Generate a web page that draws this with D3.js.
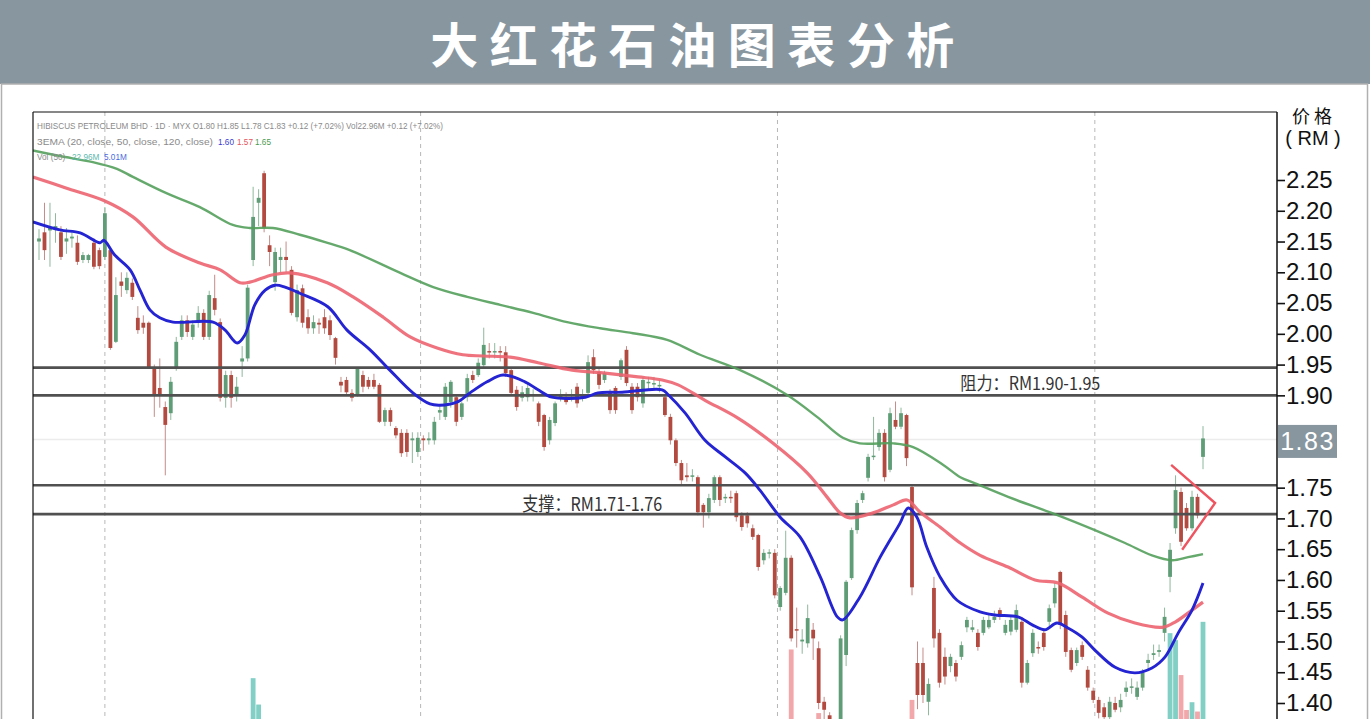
<!DOCTYPE html>
<html><head><meta charset="utf-8">
<script src="https://cdn.jsdelivr.net/npm/d3@7/dist/d3.min.js"></script>
<style>html,body{margin:0;padding:0;background:#fff;overflow:hidden}</style>
</head><body>
<svg id="c" width="1370" height="719"></svg>
<script>
const title = "大红花石油图表分析";
const openP = [2.15,2.165,2.168,2.172,2.165,2.15,2.155,2.148,2.12,2.12,
2.148,2.136,2.125,2.136,1.987,2.085,2.071,2.083,2.026,2.018,
2.018,1.945,1.912,1.881,1.871,1.946,1.995,2.022,1.995,2.018,
2.034,1.995,2.058,2.019,1.896,1.933,1.90,1.955,1.96,2.12,
2.213,2.261,2.144,2.084,2.12,2.125,2.104,2.027,2.074,2.027,
2.009,2.018,2.027,2.022,1.993,1.922,1.925,1.904,1.90,1.933,
1.925,1.925,1.917,1.857,1.876,1.847,1.839,1.839,1.827,1.808,
1.83,1.827,1.827,1.872,1.865,1.889,1.897,1.865,1.897,1.933,
1.933,1.949,1.972,1.97,1.972,1.97,1.941,1.909,1.896,1.897,
1.90,1.887,1.868,1.827,1.855,1.895,1.897,1.895,1.914,1.897,
1.904,1.962,1.938,1.925,1.904,1.912,1.93,1.974,1.914,1.914,
1.887,1.92,1.918,1.915,1.897,1.865,1.827,1.79,1.77,1.768,
1.767,1.722,1.71,1.73,1.767,1.733,1.735,1.741,1.705,1.705,
1.684,1.673,1.632,1.644,1.644,1.556,1.579,1.636,1.52,1.50,
1.497,1.519,1.489,1.402,1.38,1.35,1.34,1.478,1.603,1.681,
1.73,1.766,1.80,1.816,1.839,1.779,1.86,1.849,1.868,1.751,
1.465,1.465,1.402,1.587,1.514,1.475,1.46,1.465,1.475,1.523,
1.519,1.514,1.514,1.523,1.535,1.551,1.514,1.516,1.519,1.532,
1.433,1.481,1.491,1.514,1.532,1.562,1.613,1.543,1.486,1.465,
1.494,1.454,1.42,1.405,1.393,1.377,1.40,1.393,1.418,1.425,
1.41,1.425,1.465,1.478,1.483,1.514,1.605,1.684,1.743,1.717,
1.684,1.735,1.80];
const highP = [2.17,2.213,2.213,2.196,2.175,2.172,2.165,2.16,2.133,2.13,
2.155,2.14,2.206,2.14,2.092,2.10,2.10,2.09,2.045,2.03,
2.02,1.95,1.96,1.89,1.93,1.995,2.03,2.03,2.022,2.045,
2.04,2.07,2.096,2.025,1.94,1.94,1.93,1.98,2.08,2.239,
2.235,2.265,2.16,2.14,2.14,2.15,2.11,2.08,2.08,2.04,
2.03,2.025,2.04,2.03,1.995,1.93,1.93,1.91,1.945,1.94,
1.93,1.935,1.92,1.88,1.88,1.85,1.845,1.845,1.84,1.84,
1.835,1.84,1.865,1.885,1.92,1.925,1.90,1.89,1.935,1.94,
1.96,2.01,1.985,1.985,1.98,1.98,1.945,1.915,1.915,1.92,
1.91,1.89,1.87,1.865,1.89,1.91,1.905,1.91,1.92,1.91,
1.965,1.975,1.945,1.94,1.91,1.915,1.96,1.98,1.92,1.92,
1.93,1.93,1.93,1.925,1.90,1.87,1.83,1.795,1.79,1.78,
1.77,1.725,1.74,1.77,1.77,1.74,1.745,1.745,1.71,1.71,
1.69,1.675,1.65,1.65,1.65,1.59,1.68,1.64,1.555,1.52,
1.56,1.53,1.50,1.41,1.385,1.36,1.51,1.60,1.685,1.73,
1.745,1.805,1.865,1.845,1.845,1.88,1.89,1.88,1.87,1.755,
1.50,1.49,1.44,1.605,1.52,1.49,1.48,1.47,1.50,1.54,
1.535,1.52,1.54,1.545,1.55,1.555,1.535,1.54,1.56,1.54,
1.47,1.52,1.50,1.52,1.56,1.595,1.615,1.55,1.49,1.49,
1.50,1.46,1.425,1.41,1.40,1.41,1.41,1.415,1.435,1.44,
1.435,1.455,1.48,1.495,1.495,1.555,1.66,1.77,1.75,1.725,
1.745,1.74,1.85];
const lowP = [2.12,2.12,2.109,2.148,2.12,2.13,2.14,2.112,2.115,2.115,
2.105,2.105,2.12,1.974,1.985,2.06,2.065,2.055,2.0,2.0,
1.943,1.865,1.88,1.77,1.86,1.94,1.99,1.995,1.99,2.01,
1.99,1.99,2.03,1.89,1.88,1.88,1.89,1.93,1.955,2.11,
2.175,2.165,2.11,2.07,2.10,2.10,2.03,2.02,2.01,2.0,
2.0,2.0,2.0,1.99,1.95,1.905,1.90,1.89,1.898,1.905,
1.91,1.91,1.855,1.85,1.85,1.83,1.80,1.80,1.79,1.80,
1.81,1.82,1.82,1.86,1.86,1.88,1.85,1.86,1.89,1.92,
1.93,1.945,1.96,1.96,1.955,1.93,1.90,1.875,1.89,1.89,
1.89,1.85,1.81,1.82,1.85,1.89,1.885,1.89,1.88,1.89,
1.90,1.935,1.91,1.92,1.87,1.87,1.925,1.915,1.87,1.89,
1.88,1.91,1.91,1.905,1.865,1.82,1.785,1.755,1.76,1.76,
1.705,1.685,1.70,1.725,1.72,1.725,1.725,1.695,1.68,1.685,
1.665,1.615,1.625,1.635,1.57,1.55,1.575,1.50,1.49,1.48,
1.49,1.47,1.39,1.37,1.33,1.32,1.33,1.46,1.60,1.675,
1.725,1.76,1.795,1.81,1.76,1.775,1.845,1.845,1.785,1.575,
1.39,1.40,1.38,1.49,1.425,1.43,1.45,1.435,1.47,1.515,
1.515,1.485,1.51,1.52,1.53,1.535,1.51,1.51,1.515,1.425,
1.43,1.475,1.48,1.485,1.525,1.555,1.52,1.475,1.45,1.46,
1.47,1.42,1.40,1.375,1.37,1.37,1.385,1.385,1.41,1.415,
1.405,1.42,1.455,1.47,1.475,1.50,1.58,1.675,1.655,1.68,
1.68,1.70,1.78];
const closeP = [2.155,2.136,2.172,2.175,2.125,2.155,2.158,2.117,2.128,2.128,
2.109,2.11,2.196,1.977,2.063,2.078,2.091,2.06,2.006,2.01,
1.946,1.901,1.901,1.852,1.922,1.987,2.022,2.003,2.015,2.034,
1.995,2.063,2.039,1.896,1.933,1.896,1.914,1.96,2.075,2.19,
2.221,2.172,2.133,2.133,2.125,2.12,2.034,2.071,2.018,2.009,
2.019,2.015,2.009,1.998,1.961,1.916,1.905,1.896,1.943,1.914,
1.914,1.914,1.857,1.876,1.857,1.835,1.806,1.808,1.83,1.831,
1.827,1.83,1.857,1.876,1.914,1.922,1.857,1.887,1.928,1.925,
1.953,1.982,1.97,1.972,1.97,1.936,1.904,1.881,1.905,1.912,
1.902,1.857,1.816,1.86,1.887,1.90,1.889,1.897,1.887,1.90,
1.954,1.941,1.917,1.936,1.876,1.876,1.957,1.92,1.876,1.897,
1.925,1.922,1.92,1.917,1.868,1.827,1.79,1.762,1.767,1.77,
1.71,1.71,1.733,1.767,1.73,1.735,1.733,1.702,1.686,1.692,
1.67,1.621,1.644,1.645,1.575,1.587,1.636,1.505,1.519,1.503,
1.538,1.505,1.40,1.389,1.35,1.34,1.505,1.597,1.681,1.725,
1.741,1.80,1.802,1.839,1.767,1.871,1.849,1.871,1.798,1.588,
1.413,1.413,1.431,1.505,1.433,1.443,1.475,1.443,1.494,1.535,
1.523,1.491,1.535,1.535,1.54,1.54,1.527,1.535,1.551,1.433,
1.465,1.514,1.489,1.491,1.554,1.587,1.527,1.483,1.454,1.486,
1.475,1.425,1.405,1.384,1.377,1.402,1.389,1.405,1.425,1.427,
1.425,1.449,1.47,1.481,1.486,1.54,1.649,1.746,1.662,1.684,
1.735,1.705,1.83];
// EMA readings: [candle index, price]
const ema20 = [[-1.1,2.182],[3.8,2.169],[7.5,2.164],[11.1,2.148],[11.8,2.152],[13.8,2.128],[16.6,2.104],[18.4,2.071],[20.2,2.039],[22,2.026],[24.4,2.019],[31.7,2.019],[33.9,2.006],[36.1,1.985],[37.5,1.998],[39.3,2.047],[41.2,2.071],[43,2.079],[44.8,2.076],[47.5,2.066],[52.6,2.044],[56.1,2.006],[60.3,1.974],[63.9,1.941],[68.1,1.904],[71.2,1.886],[73,1.884],[76.1,1.889],[78.5,1.904],[81.6,1.922],[84.5,1.933],[88.5,1.922],[90.9,1.909],[93.4,1.897],[99.5,1.897],[101.8,1.904],[106.2,1.905],[113.5,1.909],[114.6,1.901],[117.7,1.871],[121.3,1.827],[125,1.80],[128.6,1.774],[131.3,1.746],[135,1.702],[138.6,1.67],[142.3,1.605],[145.4,1.54],[146.4,1.535],[149.5,1.572],[153.2,1.637],[156.8,1.692],[158.3,1.717],[159.9,1.702],[161.7,1.653],[164.1,1.605],[167.2,1.567],[171.4,1.548],[174.1,1.543],[178.3,1.54],[180.9,1.527],[183.2,1.519],[185.4,1.53],[187.4,1.522],[190,1.507],[192.3,1.486],[196,1.458],[199.6,1.449],[202.7,1.457],[205.1,1.475],[207.5,1.514],[210,1.551],[212,1.595]];
const ema50 = [[-1.1,2.255],[4.9,2.237],[11.7,2.217],[17.1,2.19],[23.1,2.141],[29.3,2.115],[33,2.104],[36.6,2.083],[38.4,2.084],[42.6,2.096],[45.7,2.099],[52.5,2.083],[57.2,2.06],[62.7,2.027],[67.6,1.995],[72.5,1.977],[77.2,1.966],[80.9,1.964],[85.8,1.962],[90.9,1.953],[97.1,1.941],[103.1,1.936],[109.1,1.93],[113.5,1.925],[116.4,1.917],[121.3,1.892],[127.3,1.863],[133.7,1.822],[139.9,1.774],[143.5,1.735],[145.9,1.709],[147.7,1.701],[151.9,1.709],[155.6,1.722],[158.1,1.73],[160.5,1.71],[164.1,1.686],[167.8,1.66],[171.4,1.64],[176.5,1.621],[181.4,1.60],[185.6,1.595],[190,1.572],[194.7,1.546],[199.6,1.53],[204.6,1.523],[207,1.532],[210,1.551],[212,1.564]];
const ema120 = [[-1.1,2.298],[3.8,2.289],[9.8,2.279],[14.2,2.268],[17.1,2.255],[23.1,2.229],[29.3,2.206],[35.3,2.177],[38.4,2.172],[42.6,2.172],[47.5,2.161],[52.1,2.149],[56.6,2.136],[65.8,2.099],[71.8,2.076],[78,2.06],[84,2.047],[90,2.034],[96.2,2.019],[102.2,2.009],[108.2,2.001],[114.4,1.99],[120.4,1.966],[127.7,1.941],[136.2,1.901],[141.7,1.865],[146.4,1.831],[149.5,1.822],[155.6,1.822],[159.2,1.816],[164.7,1.787],[167.8,1.767],[170.5,1.757],[176.5,1.735],[185.6,1.705],[192.3,1.681],[197.8,1.66],[202.7,1.64],[206.4,1.632],[209.3,1.637],[212,1.642]];
// visible volume bars [candle index, volume in M]
const volume = [[39,15.7],[40,12.3],[137,19.4],[142,11.2],[159,12.9],[206,21.5],[207,20.6],[208,16.1],[209,11.6],[210,12.6],[211,11.4],[212,22.96]];
const tickVals = [2.25,2.20,2.15,2.10,2.05,2.00,1.95,1.90,1.75,1.70,1.65,1.60,1.55,1.50,1.45,1.40];
const levels = [1.945,1.90,1.754,1.707];
const monthLines = [12,69.5,134.5,192.3];
const lastPrice = 1.83;
const triangle = [[206.2,1.787],[214.2,1.725],[208.2,1.649]];
const resistText = "阻力：RM1.90-1.95";
const supportText = "支撑：RM1.71-1.76";

const svg = d3.select("#c");
const L = 33, T = 112, R = 1277, B = 740;
const x = d3.scaleLinear().domain([0,212]).range([39,1203]);
const y = d3.scaleLinear().domain([1.40,2.25]).range([703,180]);
const yv = d3.scaleLinear().domain([0,25]).range([800,606]);

// header
svg.append("rect").attr("x",0).attr("y",0).attr("width",1370).attr("height",84).attr("fill","#8896a0");
svg.append("text").attr("x",698).attr("y",63).attr("text-anchor","middle")
  .attr("font-family","Noto Sans CJK SC").attr("font-weight","bold").attr("font-size",48)
  .attr("letter-spacing",11.5).attr("fill","#fff").text(title);
// outer frame
svg.append("rect").attr("x",1.5).attr("y",84).attr("width",1366).attr("height",640)
  .attr("fill","none").attr("stroke","#b0b0b0").attr("stroke-width",1.5);

svg.append("defs").append("clipPath").attr("id","pc").append("rect")
  .attr("x",L).attr("y",T).attr("width",R-L).attr("height",B-T);
const g = svg.append("g").attr("clip-path","url(#pc)");

// faint price line
g.append("line").attr("x1",L).attr("x2",R).attr("y1",y(lastPrice)+1).attr("y2",y(lastPrice)+1)
  .attr("stroke","#ececec").attr("stroke-width",1.5);
// month dashed lines
g.selectAll(".m").data(monthLines).join("line")
  .attr("x1",d=>x(d)).attr("x2",d=>x(d)).attr("y1",T).attr("y2",B)
  .attr("stroke","#b8b8b8").attr("stroke-width",1).attr("stroke-dasharray","4,4");

// volume
g.selectAll(".v").data(volume).join("rect")
  .attr("x",d=>x(d[0])-2.4).attr("width",4.8)
  .attr("y",d=>yv(d[1])).attr("height",d=>yv(0)-yv(d[1]))
  .attr("fill",d=>closeP[d[0]]>=openP[d[0]]?"#82cfc6":"#f2a7aa");

// candles
const idx = d3.range(closeP.length);
const up = i => closeP[i] >= openP[i];
const cg = g.append("g");
cg.selectAll(".w").data(idx).join("line")
  .attr("x1",i=>x(i)).attr("x2",i=>x(i)).attr("y1",i=>y(highP[i])).attr("y2",i=>y(lowP[i]))
  .attr("stroke",i=>up(i)?"#8fb89c":"#c48c86").attr("stroke-width",1);
cg.selectAll(".b").data(idx).join("rect")
  .attr("x",i=>x(i)-1.9).attr("width",3.8)
  .attr("y",i=>y(Math.max(openP[i],closeP[i])))
  .attr("height",i=>Math.max(1.5,Math.abs(y(openP[i])-y(closeP[i]))))
  .attr("fill",i=>up(i)?"#5e9d76":"#b24a40");

// support / resistance
g.selectAll(".lv").data(levels).join("line")
  .attr("x1",L).attr("x2",R).attr("y1",d=>y(d)).attr("y2",d=>y(d))
  .attr("stroke","#505050").attr("stroke-width",2.6);

// EMAs
const line = d3.line().x(d=>x(d[0])).y(d=>y(d[1])).curve(d3.curveCatmullRom.alpha(0.5));
g.append("path").attr("d",line(ema120)).attr("fill","none").attr("stroke","#54a05c").attr("stroke-width",2.4).attr("opacity",0.9);
g.append("path").attr("d",line(ema50)).attr("fill","none").attr("stroke","#ec6470").attr("stroke-width",3.2).attr("opacity",0.9);
g.append("path").attr("d",line(ema20)).attr("fill","none").attr("stroke","#2424d2").attr("stroke-width",2.9);

// triangle
g.append("path").attr("d",d3.line().x(d=>x(d[0])).y(d=>y(d[1]))(triangle))
  .attr("fill","none").attr("stroke","#ef5560").attr("stroke-width",2.4);

// annotations
svg.append("text").attr("x",x(167.8)).attr("y",y(1.909))
  .attr("font-family","Noto Sans CJK SC").attr("font-size",18).attr("fill","#333")
  .attr("textLength",140).attr("lengthAdjust","spacingAndGlyphs").text(resistText);
svg.append("text").attr("x",x(88)).attr("y",y(1.712))
  .attr("font-family","Noto Sans CJK SC").attr("font-size",19).attr("fill","#333")
  .attr("textLength",140).attr("lengthAdjust","spacingAndGlyphs").text(supportText);

// legend
const lg = svg.append("g").attr("font-family","Liberation Sans").attr("font-size",8.2).attr("fill","#8a8a8a");
lg.append("text").attr("x",37).attr("y",129).attr("textLength",406).attr("lengthAdjust","spacingAndGlyphs")
  .text("HIBISCUS PETROLEUM BHD · 1D · MYX  O1.80  H1.85  L1.78  C1.83  +0.12 (+7.02%)  Vol22.96M  +0.12 (+7.02%)");
lg.append("text").attr("x",37).attr("y",145).attr("textLength",176).attr("lengthAdjust","spacingAndGlyphs")
  .text("3EMA (20, close, 50, close, 120, close)");
lg.append("text").attr("x",218).attr("y",145).attr("fill","#3a3ad0").text("1.60");
lg.append("text").attr("x",237).attr("y",145).attr("fill","#e35560").text("1.57");
lg.append("text").attr("x",255).attr("y",145).attr("fill","#4a9a52").text("1.65");
lg.append("text").attr("x",37).attr("y",160).text("Vol (50)");
lg.append("text").attr("x",72).attr("y",160).attr("fill","#5cb8ae").text("22.96M");
lg.append("text").attr("x",104).attr("y",160).attr("fill","#4a6ae0").text("5.01M");

// frame of plot
svg.append("line").attr("x1",L).attr("x2",R).attr("y1",T).attr("y2",T).attr("stroke","#111").attr("stroke-width",1.2);
svg.append("line").attr("x1",L).attr("x2",L).attr("y1",T).attr("y2",719).attr("stroke","#111").attr("stroke-width",1.2);
svg.append("line").attr("x1",R).attr("x2",R).attr("y1",T).attr("y2",719).attr("stroke","#111").attr("stroke-width",1.5);

// right axis
const ax = svg.append("g").attr("transform",`translate(${R},0)`)
  .call(d3.axisRight(y).tickValues(tickVals).tickSize(8).tickPadding(1).tickFormat(d3.format(".2f")));
ax.select(".domain").remove();
ax.selectAll("line").attr("stroke","#111").attr("stroke-width",1.6);
ax.selectAll("text").attr("font-family","Liberation Sans").attr("font-size",24).attr("fill","#111");

// axis title
svg.append("text").attr("x",1314).attr("y",123).attr("text-anchor","middle")
  .attr("font-family","Noto Sans CJK SC").attr("font-size",18).attr("letter-spacing",4).attr("fill","#111").text("价格");
svg.append("text").attr("x",1313).attr("y",145).attr("text-anchor","middle")
  .attr("font-family","Liberation Sans").attr("font-size",20).attr("fill","#111").text("( RM )");

// last price box
const py = y(lastPrice)+3;
svg.append("rect").attr("x",R+1).attr("y",py-16.5).attr("width",59).attr("height",33).attr("fill","#8896a0");
svg.append("text").attr("x",R+30.5).attr("y",py+9).attr("text-anchor","middle")
  .attr("font-family","Liberation Sans").attr("font-size",25).attr("letter-spacing",1.5).attr("fill","#fff").text(d3.format(".2f")(lastPrice));
</script>
</body></html>
